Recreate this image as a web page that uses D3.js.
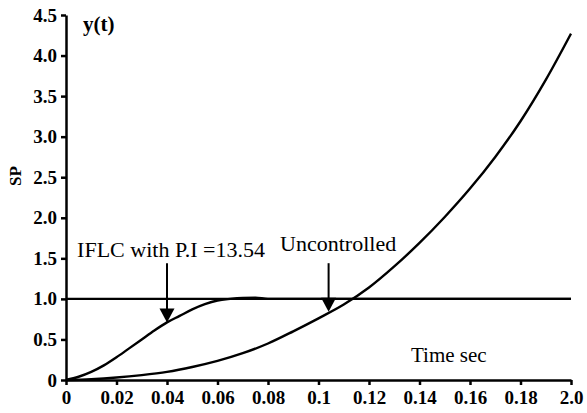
<!DOCTYPE html>
<html>
<head>
<meta charset="utf-8">
<script src="https://cdn.jsdelivr.net/npm/d3@7"></script>
</head>
<body style="margin:0">
<svg></svg>
<script>
// chart values
const timeIFLC = [0, 0.005, 0.01, 0.015, 0.02, 0.025, 0.03, 0.035, 0.04, 0.045, 0.05, 0.055, 0.06, 0.065, 0.07, 0.075, 0.08, 0.2];
const valIFLC = [0, 0.04, 0.1, 0.18, 0.28, 0.39, 0.5, 0.61, 0.71, 0.79, 0.87, 0.935, 0.98, 1.0, 1.012, 1.015, 1.0, 1.0];

const timeUnc = [0, 0.01, 0.02, 0.03, 0.04, 0.05, 0.06, 0.07, 0.08, 0.09, 0.1, 0.11, 0.12, 0.13, 0.14, 0.15, 0.16, 0.17, 0.18, 0.19, 0.2];
const valUnc = [0, 0.01, 0.03, 0.06, 0.1, 0.16, 0.235, 0.33, 0.45, 0.6, 0.76, 0.93, 1.14, 1.4, 1.69, 2.01, 2.36, 2.75, 3.19, 3.7, 4.27];

const setPoint = 1.0;

const xTicks = [0, 0.02, 0.04, 0.06, 0.08, 0.1, 0.12, 0.14, 0.16, 0.18, 0.2];
const xTickLabels = ["0", "0.02", "0.04", "0.06", "0.08", "0.1", "0.12", "0.14", "0.16", "0.18", "2.0"];
const yTicks = [0, 0.5, 1, 1.5, 2, 2.5, 3, 3.5, 4, 4.5];
const yTickLabels = ["0", "0.5", "1.0", "1.5", "2.0", "2.5", "3.0", "3.5", "4.0", "4.5"];

const svg = d3
  .select("svg")
  .attr("width", 587)
  .attr("height", 413)
  .style("display", "block");

const margin = { top: 15, right: 16, bottom: 33, left: 66 };
const graphWidth = 587 - margin.left - margin.right;
const graphHeight = 413 - margin.top - margin.bottom;

const graph = svg
  .append("g")
  .attr("transform", `translate(${margin.left}, ${margin.top})`);

const x = d3.scaleLinear().domain([0, 0.2]).range([0, graphWidth]);
const y = d3.scaleLinear().domain([0, 4.5]).range([graphHeight, 0]);

// times-like text, forced
function serifText(sel, size, bold) {
  sel.attr(
    "style",
    `font-family: 'Liberation Serif', 'Times New Roman', Tinos !important; font-size: ${size}px; font-weight: ${bold ? "bold" : "normal"};`
  );
}

// set point line
graph
  .append("line")
  .attr("x1", x(0))
  .attr("x2", x(0.2))
  .attr("y1", y(setPoint))
  .attr("y2", y(setPoint))
  .attr("stroke", "#000")
  .attr("stroke-width", 2.2);

const line = d3
  .line()
  .x((d) => x(d[0]))
  .y((d) => y(d[1]))
  .curve(d3.curveMonotoneX);

graph
  .append("path")
  .datum(d3.zip(timeIFLC, valIFLC))
  .attr("d", line)
  .attr("fill", "none")
  .attr("stroke", "#000")
  .attr("stroke-width", 2.4);

graph
  .append("path")
  .datum(d3.zip(timeUnc, valUnc))
  .attr("d", line)
  .attr("fill", "none")
  .attr("stroke", "#000")
  .attr("stroke-width", 2.4);

// axes
const xAxis = d3
  .axisBottom(x)
  .tickValues(xTicks)
  .tickFormat((d, i) => xTickLabels[i])
  .tickSize(5)
  .tickSizeOuter(0)
  .tickPadding(6);
const yAxis = d3
  .axisLeft(y)
  .tickValues(yTicks)
  .tickFormat((d, i) => yTickLabels[i])
  .tickSize(5)
  .tickSizeOuter(0)
  .tickPadding(4);

const xAxisGroup = graph
  .append("g")
  .attr("transform", `translate(0, ${graphHeight})`)
  .call(xAxis);
const yAxisGroup = graph.append("g").call(yAxis);

[xAxisGroup, yAxisGroup].forEach((g) => {
  g.attr("font-family", null).attr("font-size", null);
  g.selectAll("path, line").attr("stroke", "#000").attr("stroke-width", 2.5);
  g.selectAll("text").attr("fill", "#000").call(serifText, 19, true);
});

// annotations with arrows (data coordinates)
const arrows = [
  { label: "IFLC with P.I =13.54", t: 0.04, v: 0.71, lx: 0.0044, ly: 1.52 },
  { label: "Uncontrolled", t: 0.104, v: 0.84, lx: 0.0848, ly: 1.59 },
];
const arrowTop = 1.44;

arrows.forEach((a) => {
  const tx = x(a.t);
  const ty = y(a.v);
  graph
    .append("line")
    .attr("x1", tx)
    .attr("x2", tx)
    .attr("y1", y(arrowTop))
    .attr("y2", ty - 10)
    .attr("stroke", "#000")
    .attr("stroke-width", 2);
  graph
    .append("path")
    .attr("d", `M${tx},${ty} L${tx - 7.5},${ty - 14} L${tx + 7.5},${ty - 14} Z`)
    .attr("fill", "#000");
  graph
    .append("text")
    .attr("x", x(a.lx))
    .attr("y", y(a.ly))
    .call(serifText, 22, false)
    .text(a.label);
});

// titles
graph
  .append("text")
  .attr("x", 17)
  .attr("y", 16)
  .call(serifText, 21, true)
  .text("y(t)");

graph
  .append("text")
  .attr("x", 345)
  .attr("y", 347)
  .call(serifText, 21, false)
  .text("Time sec");

svg
  .append("text")
  .attr("transform", "translate(21, 176) rotate(-90)")
  .attr("text-anchor", "middle")
  .call(serifText, 17, true)
  .text("SP");
</script>
</body>
</html>
